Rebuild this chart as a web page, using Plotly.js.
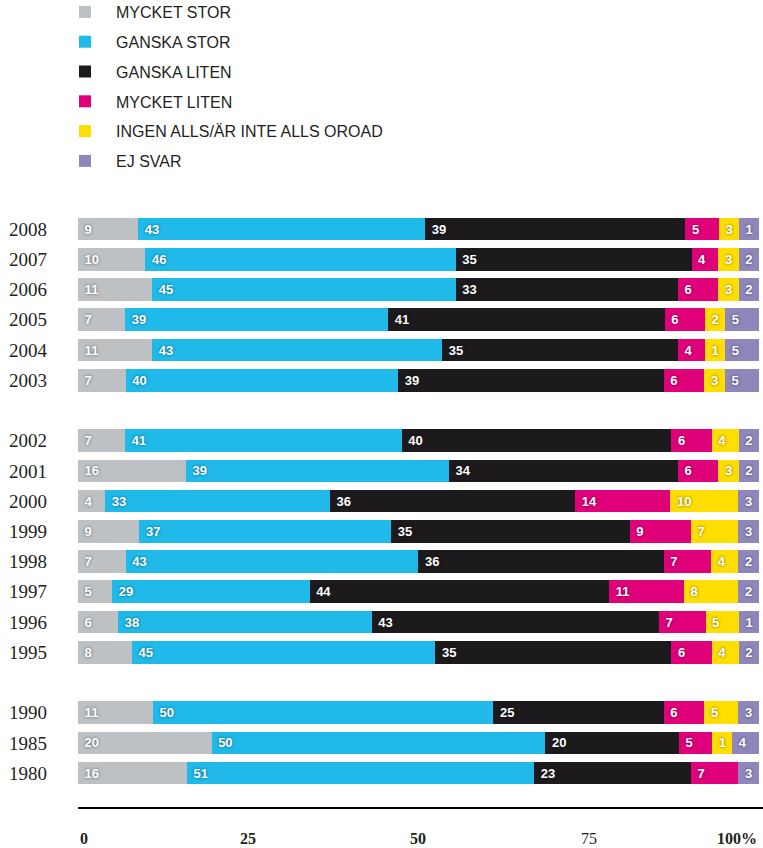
<!DOCTYPE html>
<html>
<head>
<meta charset="utf-8">
<script src="https://cdn.plot.ly/plotly-3.0.1.min.js"></script>
<style>html,body{margin:0;padding:0;background:#fff;}#chart{width:763px;height:848px;}</style>
</head>
<body>
<div id="chart"></div>
<script>
// Years shown (top to bottom)
const years = ['2008','2007','2006','2005','2004','2003','2002','2001','2000','1999','1998','1997','1996','1995','1990','1985','1980'];
// Category order including the two blank spacer rows
const categoryOrder = ['2008','2007','2006','2005','2004','2003',' ','2002','2001','2000','1999','1998','1997','1996','1995','  ','1990','1985','1980'];

const seriesNames = ['MYCKET STOR','GANSKA STOR','GANSKA LITEN','MYCKET LITEN','INGEN ALLS/ÄR INTE ALLS OROAD','EJ SVAR'];
const seriesColors = ['#bec1c4','#1fbaea','#1c1a1d','#e0007a','#fedd00','#8f87bb'];

const mycketStor   = [9,10,11,7,11,7, 7,16,4,9,7,5,6,8, 11,20,16];
const ganskaStor   = [43,46,45,39,43,40, 41,39,33,37,43,29,38,45, 50,50,51];
const ganskaLiten  = [39,35,33,41,35,39, 40,34,36,35,36,44,43,35, 25,20,23];
const mycketLiten  = [5,4,6,6,4,6, 6,6,14,9,7,11,7,6, 6,5,7];
const ingenAlls    = [3,3,3,2,1,3, 4,3,10,7,4,8,5,4, 5,1,0];
const ejSvar       = [1,2,2,5,5,5, 2,2,3,3,2,2,1,2, 3,4,3];

const tickVals = [0,25,50,75,100];
const tickText = ['0','25','50','75','100%'];

const allSeries = [mycketStor, ganskaStor, ganskaLiten, mycketLiten, ingenAlls, ejSvar];
const NB = '\u00a0';

// As in the original graphic: non-zero segments get a minimum drawn width
// (3 percentage points) and each row is rescaled to fill 100 %.
const MIN_W = 3;
const rowTotals = years.map((_, r) => allSeries.reduce((s, ser) => s + (ser[r] ? Math.max(ser[r], MIN_W) : 0), 0));
const drawn = allSeries.map(ser => ser.map((v, r) => v ? Math.max(v, MIN_W) * 100 / rowTotals[r] : 0));

const traces = allSeries.map((vals, i) => ({
  type: 'bar',
  orientation: 'h',
  name: seriesNames[i],
  legendgroup: 'g' + i,
  y: years,
  x: drawn[i],
  text: vals.map(v => v ? NB + v : ''),
  textposition: 'inside',
  insidetextanchor: 'start',
  textangle: 0,
  constraintext: 'none',
  textfont: {family: 'Liberation Sans, Arial, sans-serif', size: 13, color: '#ffffff', weight: 'bold', shadow: '0px 0px 3px rgba(0,0,0,0.55)'},
  marker: {color: seriesColors[i], line: {width: 0}},
  hoverinfo: 'skip'
}));

const annotations = tickVals.map((v, i) => ({
  x: v, xref: 'x',
  y: -0.053, yref: 'paper',
  text: (i === 3) ? tickText[i] : '<b>' + tickText[i] + '</b>',
  showarrow: false,
  xanchor: i === 0 ? 'left' : (i === tickVals.length - 1 ? 'right' : 'center'),
  yanchor: 'middle',
  font: {family: 'Liberation Serif, Times New Roman, serif', size: 16, color: '#231f20'}
}));

const layout = {
  width: 763, height: 848,
  margin: {l: 78, r: 0, t: 214, b: 41, autoexpand: false},
  paper_bgcolor: '#ffffff', plot_bgcolor: '#ffffff',
  barmode: 'stack',
  bargap: 0.25,
  showlegend: true,
  legend: {
    xref: 'paper', yref: 'paper',
    x: -0.035, y: 1.3693, xanchor: 'left', yanchor: 'top',
    traceorder: 'grouped',
    tracegroupgap: 6,
    itemwidth: 52,
    font: {family: 'Liberation Sans, Arial, sans-serif', size: 16, color: '#231f20'},
    bgcolor: 'rgba(0,0,0,0)'
  },
  xaxis: {
    range: [0, 100.6],
    showgrid: false, zeroline: false,
    showline: true, linecolor: '#000000', linewidth: 2,
    showticklabels: false, ticks: '', fixedrange: true
  },
  yaxis: {
    type: 'category',
    categoryorder: 'array', categoryarray: categoryOrder,
    range: [19.12, -0.5],
    showgrid: false, zeroline: false, showline: false,
    ticks: '', ticklabelstandoff: 30,
    tickfont: {family: 'Liberation Serif, Times New Roman, serif', size: 19, color: '#231f20'},
    fixedrange: true
  },
  annotations: annotations
};

Plotly.newPlot('chart', traces, layout, {displayModeBar: false, staticPlot: true});
</script>
</body>
</html>
